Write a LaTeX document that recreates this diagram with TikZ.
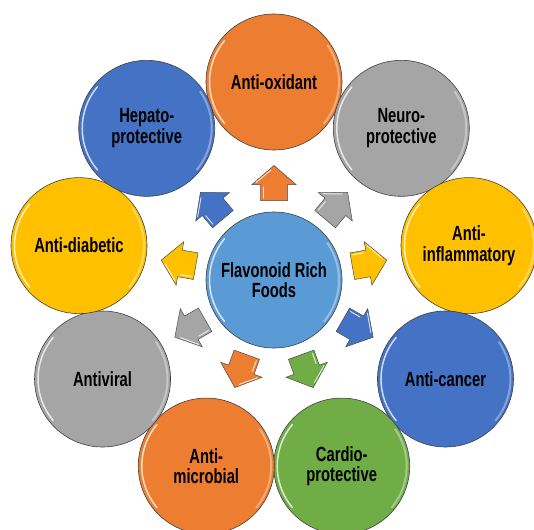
\documentclass[tikz,border=0pt]{standalone}
\usepackage{fontspec}
\setmainfont{Liberation Sans}[FakeStretch=0.72]

\definecolor{orangeC}{HTML}{ED7D31}
\definecolor{grayC}{HTML}{A5A5A5}
\definecolor{yellowC}{HTML}{FFC000}
\definecolor{blueC}{HTML}{4472C4}
\definecolor{greenC}{HTML}{70AD47}
\definecolor{skyC}{HTML}{5B9BD5}

\tikzset{
  bubble/.style={circle, draw=black!75, line width=0.6pt, minimum size=136pt,
    inner sep=0pt, align=center, text=black,
    font=\bfseries\fontsize{20.5}{20.5}\selectfont},
  gloss/.style={white, line width=1.5pt, opacity=0.75, line cap=round},
  flowarrow/.style={draw=black!70, line width=0.5pt, line join=miter},
}

\begin{document}
\begin{tikzpicture}
    \useasboundingbox (0,0) rectangle (534pt,-529pt);

    % centre
    \node[bubble, fill=skyC] (hub) at (274pt,-280pt) {Flavonoid Rich\\Foods};

    % ring of effects, 40 degrees apart
    \foreach \a/\c/\t/\n in {90/orangeC/{Anti-oxidant}/oxid,
                             50/grayC/{Neuro-\\protective}/neuro,
                             10/yellowC/{Anti-\\inflammatory}/inflam,
                             -30/blueC/{Anti-cancer}/cancer,
                             -70/greenC/{Cardio-\\protective}/cardio,
                             -110/orangeC/{Anti-\\microbial}/microb,
                             -150/grayC/{Antiviral}/viral,
                             170/yellowC/{Anti-diabetic}/diab,
                             130/blueC/{Hepato-\\protective}/hepato} {
        \node[bubble, fill=\c] (\n) at ([shift={(\a:198pt)}]hub.center) {\t};
        \draw[gloss] ([shift={(140:64.5pt)}]\n.center) arc (140:220:64.5pt);
        \draw[\c!55!white, line width=2pt, opacity=0.8]
            ([shift={(-40:65pt)}]\n.center) arc (-40:35:65pt);

        % block arrow pointing out
        \begin{scope}[shift={(hub.center)}, rotate=\a]
            \draw[flowarrow, fill=\c] (79.5pt,-13.5pt) -- (95.5pt,-13.5pt) -- (95.5pt,-22pt)
                -- (114.5pt,0pt) -- (95.5pt,22pt) -- (95.5pt,13.5pt) -- (79.5pt,13.5pt) -- cycle;
            \draw[gloss, line width=1pt] (97.5pt,18pt) -- (110pt,3pt);
            \draw[gloss, line width=1pt] (82pt,11pt) -- (93pt,11pt);
        \end{scope}
    }
    \draw[gloss] ([shift={(140:64.5pt)}]hub.center) arc (140:220:64.5pt);
    \draw[skyC!55!white, line width=2pt, opacity=0.8]
        ([shift={(-40:65pt)}]hub.center) arc (-40:35:65pt);
\end{tikzpicture}
\end{document}
